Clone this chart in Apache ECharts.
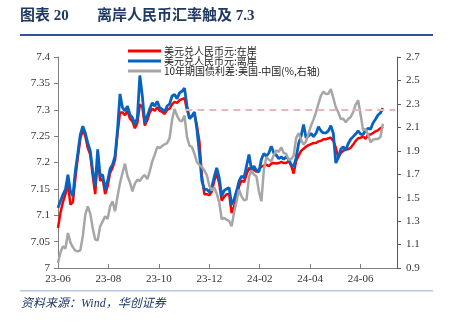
<!DOCTYPE html>
<html>
<head>
<meta charset="utf-8">
<script src="https://cdn.jsdelivr.net/npm/echarts@6/dist/echarts.min.js"></script>
<style>html,body{margin:0;padding:0;background:#fff;}#c{width:453px;height:324px;}</style>
</head>
<body>
<div id="c"></div>
<script>
// x positions: days since 2023-06-01
const dayOffsets = [0,3,6,9,12,15,18,21,24,27,30,33,36,39,42,45,48,51,54,57,60,63,66,69,72,75,78,81,84,87,90,93,96,99,102,105,108,111,114,117,120,123,126,129,132,135,138,141,144,147,150,153,156,159,162,165,168,171,174,177,180,183,186,189,192,195,198,201,204,207,210,213,216,219,222,225,228,231,234,237,240,243,246,249,252,255,258,261,264,267,270,273,276,279,282,285,288,291,294,297,300,303,306,309,312,315,318,321,324,327,330,333,336,339,342,345,348,351,354,357,360,363,366,369,372,375,378,381,384,387,390,393];
const xTickDays = [0,61,122,183,244,305,366];
const xTickLabels = ['23-06','23-08','23-10','23-12','24-02','24-04','24-06'];
const leftTicks = [7,7.05,7.1,7.15,7.2,7.25,7.3,7.35,7.4];
const rightTicks = [0.9,1.1,1.3,1.5,1.7,1.9,2.1,2.3,2.5,2.7];
const seriesNames = ['美元兑人民币元:在岸','美元兑人民币元:离岸','10年期国债利差:美国-中国(%,右轴)'];
const onshore = [
7.076,7.105,7.125,7.14,7.16,7.12,7.125,7.17,7.21,7.245,
7.262,7.25,7.228,7.215,7.175,7.14,7.21,7.165,7.17,7.14,
7.155,7.18,7.19,7.205,7.255,7.295,7.295,7.29,7.298,7.283,
7.278,7.265,7.275,7.31,7.305,7.27,7.28,7.295,7.302,7.298,
7.305,7.298,7.296,7.292,7.3,7.302,7.31,7.315,7.313,7.318,
7.32,7.322,7.3,7.285,7.288,7.292,7.27,7.24,7.175,7.14,
7.14,7.138,7.145,7.165,7.18,7.16,7.128,7.135,7.14,7.14,
7.104,7.117,7.133,7.155,7.166,7.163,7.177,7.19,7.184,7.187,
7.182,7.187,7.192,7.194,7.196,7.193,7.198,7.199,7.198,7.199,
7.201,7.199,7.199,7.203,7.194,7.179,7.203,7.213,7.222,7.226,
7.23,7.233,7.235,7.237,7.237,7.24,7.241,7.244,7.244,7.246,
7.247,7.241,7.228,7.209,7.218,7.222,7.225,7.225,7.228,7.234,
7.241,7.246,7.247,7.249,7.245,7.253,7.253,7.256,7.259,7.261,
7.265,7.268];
const offshore = [
7.114,7.127,7.139,7.149,7.177,7.146,7.136,7.184,7.218,7.253,
7.269,7.256,7.237,7.222,7.184,7.155,7.225,7.174,7.177,7.149,
7.165,7.188,7.196,7.212,7.263,7.33,7.304,7.298,7.307,7.291,
7.285,7.272,7.285,7.365,7.326,7.275,7.288,7.302,7.313,7.307,
7.316,7.304,7.301,7.296,7.307,7.311,7.326,7.329,7.321,7.332,
7.335,7.341,7.307,7.283,7.288,7.296,7.263,7.218,7.165,7.149,
7.149,7.144,7.154,7.173,7.19,7.171,7.136,7.147,7.15,7.152,
7.12,7.13,7.146,7.165,7.174,7.171,7.193,7.215,7.187,7.193,
7.185,7.182,7.206,7.217,7.212,7.218,7.231,7.218,7.214,7.207,
7.211,7.206,7.211,7.206,7.196,7.192,7.209,7.236,7.25,7.272,
7.247,7.25,7.255,7.249,7.255,7.268,7.26,7.256,7.256,7.26,
7.27,7.255,7.199,7.209,7.225,7.23,7.223,7.236,7.244,7.249,
7.254,7.26,7.254,7.253,7.261,7.265,7.263,7.275,7.282,7.29,
7.294,7.303];
const spread = [
0.943,1.034,1.085,1.065,1.199,1.119,1.076,1.048,1.042,1.051,
1.17,1.355,1.426,1.364,1.241,1.142,1.136,1.256,1.298,1.341,
1.318,1.426,1.469,1.383,1.511,1.625,1.71,1.79,1.682,1.631,
1.554,1.62,1.654,1.642,1.676,1.693,1.659,1.725,1.81,1.867,
1.932,1.924,1.941,1.955,1.966,2.009,2.166,2.257,2.2,2.16,
2.151,2.2,2.018,1.944,1.932,1.875,1.802,1.779,1.762,1.733,
1.693,1.602,1.563,1.588,1.534,1.46,1.318,1.327,1.312,1.301,
1.256,1.375,1.469,1.568,1.511,1.477,1.483,1.676,1.733,1.696,
1.682,1.554,1.469,1.739,1.847,1.824,1.81,1.864,1.904,1.89,
1.93,1.881,1.873,1.824,1.83,1.858,2.009,2.049,1.995,1.952,
1.981,2.046,2.114,2.166,2.228,2.302,2.37,2.404,2.385,2.387,
2.427,2.35,2.271,2.228,2.171,2.174,2.143,2.171,2.188,2.231,
2.294,2.331,2.208,2.075,2.086,2.038,1.972,1.995,2.001,2.001,
2.018,2.131];
const refLevel = 7.3;
const refStartDay = 154;
const refEndDay = 408;

const pair = arr => dayOffsets.map((d, i) => [d, arr[i]]);
const serifFont = 'Liberation Serif, Noto Sans CJK SC';
const chart = echarts.init(document.getElementById('c'));
chart.setOption({
  animation: false,
  backgroundColor: '#fff',
  grid: { left: 58, right: 56, top: 57, bottom: 56 },
  graphic: [
    { type: 'text', left: 20, top: 9, style: { text: '图表 20', font: 'bold 15px ' + serifFont, fill: '#1f3864' } },
    { type: 'text', left: 97, top: 9, style: { text: '离岸人民币汇率触及 7.3', font: 'bold 15px ' + serifFont, fill: '#1f3864' } },
    { type: 'rect', shape: { x: 20, y: 34, width: 413, height: 2 }, style: { fill: '#2f5597' } },
    { type: 'rect', shape: { x: 20, y: 290, width: 413, height: 1.5 }, style: { fill: '#b4c7e7' } },
    { type: 'text', left: 21, top: 298, style: { text: '资料来源：Wind，华创证券', font: 'italic 12px ' + serifFont, fill: '#1f3864' } }
  ],
  legend: {
    orient: 'vertical', left: 123, top: 41,
    icon: 'rect', itemWidth: 33, itemHeight: 3, itemGap: 0,
    textStyle: { fontFamily: 'Noto Sans CJK SC', fontSize: 10, lineHeight: 9, color: '#222', padding: [0,0,0,-2] },
    data: seriesNames
  },
  xAxis: {
    type: 'value', min: 0, max: 410,
    axisLine: { lineStyle: { color: '#7f7f7f', width: 1 } },
    axisTick: { inside: true, length: 4, customValues: xTickDays, lineStyle: { color: '#7f7f7f' } },
    axisLabel: { customValues: xTickDays, formatter: v => xTickLabels[xTickDays.indexOf(v)], color: '#333', fontFamily: serifFont, fontSize: 11, margin: 6 },
    splitLine: { show: false }
  },
  yAxis: [
    {
      type: 'value', min: 7, max: 7.4,
      axisLine: { show: true, lineStyle: { color: '#7f7f7f' } },
      axisTick: { show: true, length: 4, customValues: leftTicks, lineStyle: { color: '#7f7f7f' } },
      axisLabel: { customValues: leftTicks, formatter: v => String(+v.toFixed(2)), color: '#333', fontFamily: serifFont, fontSize: 11, margin: 8 },
      splitLine: { show: false }
    },
    {
      type: 'value', position: 'right', min: 0.9, max: 2.7,
      axisLine: { show: true, lineStyle: { color: '#595959' } },
      axisTick: { show: true, length: 4, customValues: rightTicks, lineStyle: { color: '#595959' } },
      axisLabel: { customValues: rightTicks, formatter: v => (+v).toFixed(1), color: '#333', fontFamily: serifFont, fontSize: 11, margin: 9 },
      splitLine: { show: false }
    }
  ],
  series: [
    {
      name: seriesNames[0], type: 'line', yAxisIndex: 0, data: pair(onshore),
      showSymbol: false, symbol: 'none', lineStyle: { color: '#ff0000', width: 2.5 }, itemStyle: { color: '#ff0000' },
      markLine: {
        silent: true, symbol: 'none', label: { show: false },
        lineStyle: { color: '#e6b9b8', type: [7, 5], width: 1.8 },
        data: [[{ coord: [refStartDay, refLevel] }, { coord: [refEndDay, refLevel] }]]
      }
    },
    {
      name: seriesNames[1], type: 'line', yAxisIndex: 0, data: pair(offshore),
      showSymbol: false, symbol: 'none', lineStyle: { color: '#0563c1', width: 2.8 }, itemStyle: { color: '#0563c1' }
    },
    {
      name: seriesNames[2], type: 'line', yAxisIndex: 1, data: pair(spread),
      showSymbol: false, symbol: 'none', lineStyle: { color: '#a6a6a6', width: 2.5 }, itemStyle: { color: '#a6a6a6' }
    }
  ]
});
</script>
</body>
</html>
